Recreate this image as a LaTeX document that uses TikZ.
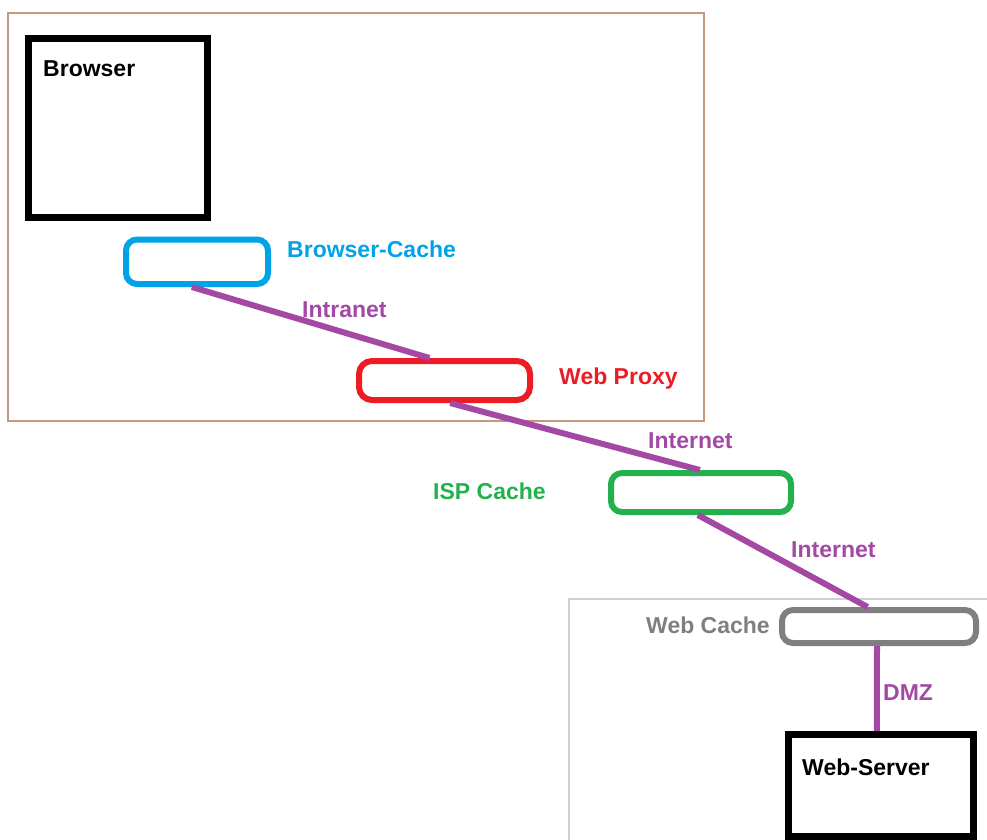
\documentclass[tikz,border=0pt]{standalone}
\usepackage{fontspec}
\setmainfont{Liberation Sans}
\usetikzlibrary{calc}

\definecolor{linkpurple}{HTML}{A349A4}
\definecolor{cacheblue}{HTML}{00A2E8}
\definecolor{proxyred}{HTML}{ED1C24}
\definecolor{ispgreen}{HTML}{22B14C}
\definecolor{webgray}{HTML}{7F7F7F}
\definecolor{zonetan}{HTML}{C49A7E}
\definecolor{zonegray}{HTML}{CFCFCF}

\tikzset{
  x=1pt, y=-1pt,
  lbl/.style={font=\fontsize{23}{27}\selectfont\bfseries, inner sep=0pt, anchor=base west},
  hostbox/.style={draw=black, line width=7pt, inner sep=0pt},
  cachebox/.style={line width=6pt, rounded corners=11pt, inner sep=0pt, fill=white},
  link/.style={draw=linkpurple, line width=6pt},
  zone/.style={line width=1.2pt}
}

\begin{document}
\begin{tikzpicture}
\useasboundingbox (0,0) rectangle (987,839);

% network zones: company intranet and DMZ
\draw[zone, draw=zonetan] (8,13) rectangle (704,421);
\draw[zone, draw=zonegray] (990,599) -- (569,599) -- (569,845);

% hosts
\node[hostbox, minimum width=179pt, minimum height=179.5pt] (browser) at (118,127.75) {};
\node[hostbox, minimum width=185pt, minimum height=101.5pt] (server) at (881,785.25) {};

% caches along the path
\node[cachebox, draw=cacheblue, minimum width=142pt, minimum height=44.5pt] (bc) at (197,261.75) {};
\node[cachebox, draw=proxyred, minimum width=171pt, minimum height=39pt, rounded corners=13pt] (wp) at (444.5,380.5) {};
\node[cachebox, draw=ispgreen, minimum width=180pt, minimum height=39pt] (isp) at (701,492.5) {};
\node[cachebox, draw=webgray, minimum width=194pt, minimum height=33pt] (wc) at (879,626.5) {};

% links between the caches
\draw[link] ($(bc.south west)!0.465!(bc.south east)$) -- ($(wp.north west)!0.415!(wp.north east)$);
\draw[link] ($(wp.south west)!0.532!(wp.south east)$) -- ($(isp.north west)!0.494!(isp.north east)$);
\draw[link] ($(isp.south west)!0.483!(isp.south east)$) -- ($(wc.north west)!0.443!(wc.north east)$);
\draw[link] ($(wc.south west)!0.49!(wc.south east)$) -- ($(server.north west)!0.478!(server.north east)$);

% labels
\node[lbl, text=black] (tbrowser) at (43,76) {Browser};
\node[lbl, text=black] (tserver) at (802,775) {Web-Server};
\node[lbl, text=cacheblue] (tbc) at (287,257) {Browser-Cache};
\node[lbl, text=proxyred] (twp) at (559,384) {Web Proxy};
\node[lbl, text=ispgreen] (tisp) at (433,499) {ISP Cache};
\node[lbl, text=webgray] (twc) at (646,633) {Web Cache};
\node[lbl, text=linkpurple] (tintra) at (302,317) {Intranet};
\node[lbl, text=linkpurple] (tinet1) at (648,448) {Internet};
\node[lbl, text=linkpurple] (tinet2) at (791,557) {Internet};
\node[lbl, text=linkpurple] (tdmz) at (883,700) {DMZ};
\end{tikzpicture}
\end{document}
